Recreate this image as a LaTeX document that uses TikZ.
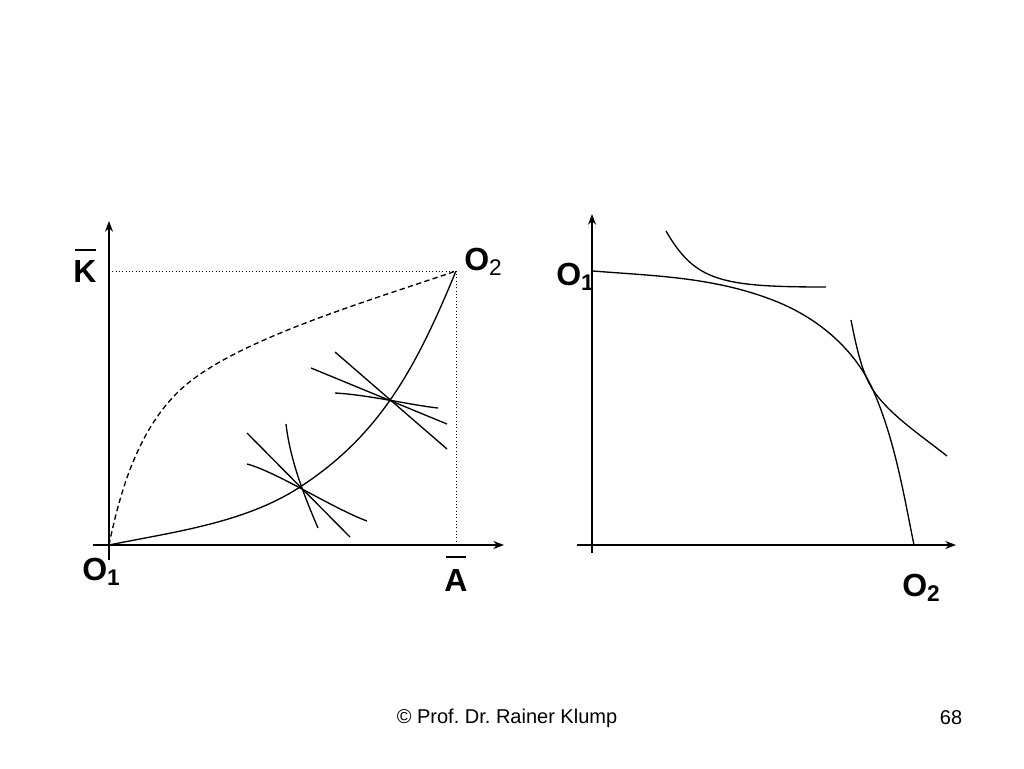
\documentclass[tikz,border=0pt]{standalone}
\usepackage{fontspec}
\setmainfont{Liberation Sans}
\usetikzlibrary{arrows.meta}
\newcommand{\subn}[1]{\raisebox{-0.3ex}{\fontsize{17}{17}\selectfont #1}}
\frenchspacing
\begin{document}
\begin{tikzpicture}[x=0.75pt,y=-0.75pt,
  axis/.style={line width=1.1pt,-{Stealth[length=8pt,width=6pt]}},
  curve/.style={line width=1pt},
  guide/.style={line width=0.5pt,dotted},
  lbl/.style={font=\fontsize{24}{24}\selectfont\bfseries,inner sep=0pt},
  foot/.style={font=\fontsize{15}{15}\selectfont,inner sep=0pt}]
\useasboundingbox (0,0) rectangle (1024,768);
% ---------- left panel ----------
\coordinate (O1) at (109,545);
\coordinate (O2) at (456,271);
\coordinate (Kt) at (109,271);
\coordinate (At) at (456,545);
\coordinate (P1) at (300,487);
\coordinate (P2) at (391,401);
\draw[axis] (109,560) -- (109,221);
\draw[axis] (93,545) -- (504,545);
\draw[guide] (Kt) -- (O2) -- (At);
% contract curve
\draw[curve] (O1) .. controls (173,532) and (245,523) .. (P1)
                  .. controls (380,435) and (416,368) .. (O2);
% dashed curve
\draw[curve,dash pattern=on 4pt off 2.5pt] (O1) .. controls (120,492) and (137,433) .. (177,393)
                  .. controls (227,343) and (356,305) .. (O2);
% tangencies at lower point
\draw[curve] (286,424) .. controls (290,459) and (303,493) .. (318,528);
\draw[curve] (247,433) -- (350,537);
\draw[curve] (247,464) .. controls (277,472) and (332,508) .. (367,521);
% tangencies at upper point
\draw[curve] (311,368) -- (447,424);
\draw[curve] (335,352) -- (447,449);
\draw[curve] (335,393) .. controls (370,395) and (410,405) .. (438,408);
% labels
\node[lbl] (Klab) at (85,271) {K};
\draw[line width=1.3pt] (75,250) -- (96,250);
\node[lbl] (O2lab) at (483,262) {O\subn{\mdseries 2}};
\node[lbl] (O1lab) at (101,572) {O\subn{1}};
\node[lbl] (Alab) at (456,580) {A};
\draw[line width=1.3pt] (446,557) -- (466,557);
% ---------- right panel ----------
\coordinate (T0) at (593,271);
\coordinate (Ta) at (780,303);
\coordinate (Q) at (873,390);
\coordinate (T1) at (914,545);
\draw[axis] (592,553) -- (592,214);
\draw[axis] (577,545) -- (956,545);
\draw[curve] (T0) .. controls (655,276) and (718,277) .. (Ta)
                  .. controls (820,320) and (855,350) .. (Q)
                  .. controls (895,440) and (904,496) .. (T1);
\draw[curve] (666,231) .. controls (695,281) and (720,287) .. (826,287);
\draw[curve] (851,320) .. controls (855,340) and (861,372) .. (Q)
                  .. controls (889,414) and (919,434) .. (947,456);
\node[lbl] (O1r) at (575,277) {O\subn{1}};
\node[lbl] (O2r) at (921,588) {O\subn{2}};
% ---------- footer ----------
\node[foot] (copy) at (507,718) {© Prof. Dr. Rainer Klump};
\node[foot] (page) at (951,718) {68};
\end{tikzpicture}
\end{document}
